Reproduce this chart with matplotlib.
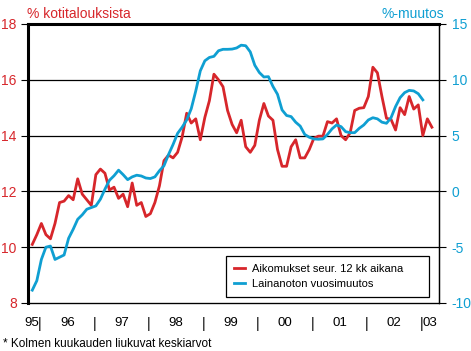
import matplotlib
matplotlib.use("Agg")
import matplotlib.pyplot as plt
import numpy as np

# month index: 0 = Jan 1996, first value = Nov 1995
start_month = -2

# Aikomukset seur. 12 kk aikana (% kotitalouksista), left axis
intentions = [10.1, 10.45, 10.85, 10.45, 10.3, 10.85, 11.6, 11.65, 11.85, 11.7,
              12.45, 11.9, 11.7, 11.5, 12.6, 12.8, 12.65, 12.05, 12.15, 11.75,
              11.9, 11.45, 12.3, 11.5, 11.6, 11.1, 11.2, 11.6, 12.2, 13.1,
              13.3, 13.2, 13.4, 13.95, 14.8, 14.45, 14.6, 13.85, 14.65, 15.25,
              16.2, 16.0, 15.75, 14.9, 14.4, 14.1, 14.55, 13.6, 13.4, 13.65,
              14.55, 15.15, 14.7, 14.55, 13.5, 12.9, 12.9, 13.6, 13.85, 13.2,
              13.2, 13.5, 13.9, 13.98, 13.98, 14.5, 14.45, 14.6, 14.0, 13.85,
              14.1, 14.9, 14.98, 15.0, 15.4, 16.45, 16.25, 15.4, 14.62, 14.58,
              14.2, 15.0, 14.75, 15.4, 14.95, 15.1, 14.0, 14.6, 14.3]

# Lainanoton vuosimuutos (%-muutos), right axis
loans = [-8.85, -8.0, -6.1, -5.0, -4.9, -6.1, -5.9, -5.7, -4.2, -3.4,
         -2.5, -2.1, -1.6, -1.45, -1.3, -0.7, 0.2, 1.0, 1.4, 1.9,
         1.5, 1.05, 1.3, 1.45, 1.38, 1.2, 1.15, 1.3, 1.85, 2.3,
         3.3, 4.2, 5.2, 5.75, 6.4, 7.4, 9.0, 10.8, 11.7, 12.0,
         12.1, 12.6, 12.73, 12.73, 12.75, 12.85, 13.1, 13.05, 12.5, 11.3,
         10.65, 10.25, 10.28, 9.4, 8.7, 7.3, 6.8, 6.7, 6.2, 5.85,
         5.1, 4.85, 4.7, 4.67, 4.7, 5.1, 5.6, 5.95, 5.8, 5.35,
         5.26, 5.26, 5.65, 5.95, 6.4, 6.6, 6.5, 6.2, 6.1, 6.6,
         7.6, 8.4, 8.85, 9.05, 9.0, 8.75, 8.2]

years = ['95', '96', '97', '98', '99', '00', '01', '02', '03']
left_ticks = [8, 10, 12, 14, 16, 18]
right_ticks = [-10, -5, 0, 5, 10, 15]

red = '#d7262b'
blue = '#0f9fd2'
sans = ['Liberation Sans', 'DejaVu Sans']

x_red = np.arange(len(intentions)) + start_month
x_blue = np.arange(len(loans)) + start_month

fig = plt.figure(figsize=(4.71, 3.51), dpi=100)
ax = fig.add_axes([0.0594, 0.1368, 0.873, 0.7949])
ax2 = ax.twinx()

l1, = ax.plot(x_red, intentions, color=red, lw=2.0, label='Aikomukset seur. 12 kk aikana', zorder=3)
l2, = ax2.plot(x_blue, loans, color=blue, lw=2.0, label='Lainanoton vuosimuutos', zorder=3)

ax.set_xlim(-2.95, 87.6)
ax.set_ylim(8, 18)
ax2.set_ylim(-10, 15)

ax.set_yticks(left_ticks)
ax2.set_yticks(right_ticks)
ax.set_yticklabels([str(v) for v in left_ticks], color=red, family=sans, fontsize=10)
ax2.set_yticklabels([str(v) for v in right_ticks], color=blue, family=sans, fontsize=10)
ax.tick_params(axis='y', length=5, width=0.8, color='black', pad=3)
ax2.tick_params(axis='y', length=5, width=0.8, color='black', pad=4)

for v in left_ticks[1:-1]:
    ax.axhline(v, color='black', lw=0.9, zorder=1)

# x axis: year boundaries as "|" and year labels in between
boundaries = [12 * k - 0.3 for k in range(8)]
mids = [-2.1] + [12 * k + 5.7 for k in range(7)] + [85.6]
ax.set_xticks(boundaries)
ax.set_xticklabels(['|'] * len(boundaries), family=sans, fontsize=10)
ax.set_xticks(mids, minor=True)
ax.set_xticklabels(years, minor=True, family=sans, fontsize=9.5)
ax.tick_params(axis='x', which='both', length=0, pad=10)

for name, s in ax.spines.items():
    s.set_color('black')
ax.spines['top'].set_linewidth(2.2)
ax.spines['left'].set_linewidth(2.2)
ax.spines['bottom'].set_linewidth(0.9)
ax.spines['right'].set_linewidth(0.9)
ax2.spines['right'].set_linewidth(0.9)
ax2.spines['top'].set_visible(False)
ax2.spines['left'].set_visible(False)

fig.text(0.057, 0.95, '% kotitalouksista', color=red, family=sans, fontsize=10)
fig.text(0.942, 0.95, '%-muutos', color=blue, family=sans, fontsize=10, ha='right')

leg = ax2.legend(handles=[l1, l2], loc='lower left', bbox_to_anchor=(0.482, 0.021, 0.494, 0.15),
                 mode='expand', borderaxespad=0, frameon=True, fancybox=False,
                 edgecolor='black', framealpha=1, handlelength=1.0, handletextpad=0.6,
                 borderpad=0.7, labelspacing=0.5, prop={'family': sans, 'size': 8})
leg.get_frame().set_linewidth(0.9)

fig.text(0.006, 0.012, '* Kolmen kuukauden liukuvat keskiarvot', family=sans, fontsize=8.5)

fig.savefig('out.png', dpi=100)
